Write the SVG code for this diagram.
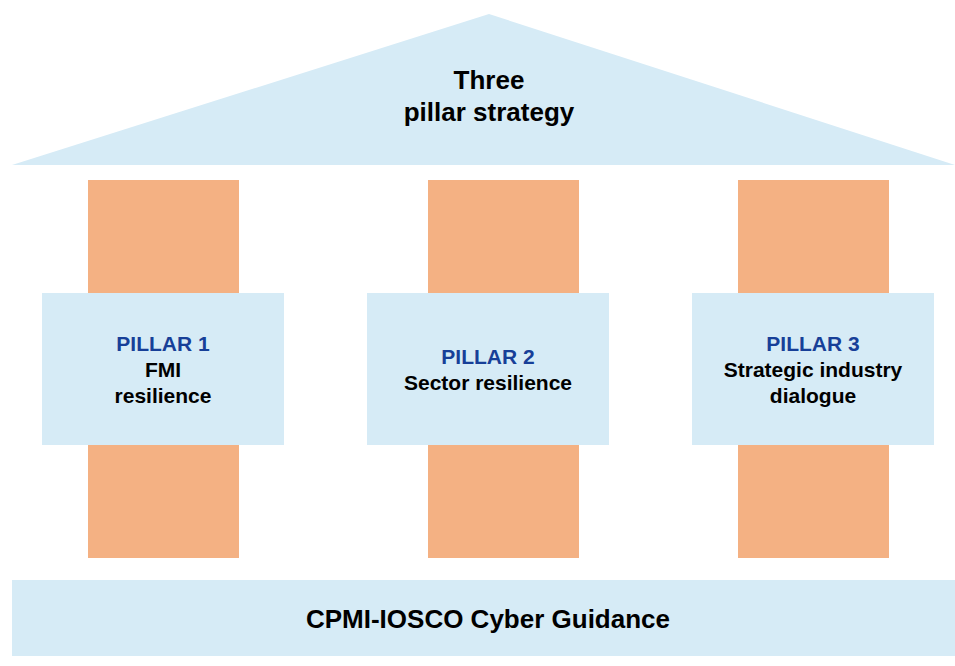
<svg xmlns="http://www.w3.org/2000/svg" width="955" height="666" viewBox="0 0 955 666">
<style>
.roof,.band,.box{fill:#D6EBF6}
.col{fill:#F4B183}
text{font-family:"Liberation Sans",Arial,sans-serif;font-weight:bold;text-anchor:middle;fill:#000}
.t{font-size:26px}
.p{font-size:21px}
.h{fill:#173F98}
</style>
<rect width="955" height="666" fill="#fff"/>
<g id="roof">
<polygon class="roof" points="489,14 955,165 12,165"/>
<text class="t" x="489" y="89">Three</text>
<text class="t" x="489" y="121">pillar strategy</text>
</g>
<g id="pillar1">
<rect class="col" x="88" y="180" width="151" height="378"/>
<rect class="box" x="42" y="293" width="242" height="152"/>
<text class="p h" x="163" y="351">PILLAR 1</text>
<text class="p" x="163" y="377">FMI</text>
<text class="p" x="163" y="403">resilience</text>
</g>
<g id="pillar2">
<rect class="col" x="428" y="180" width="151" height="378"/>
<rect class="box" x="367" y="293" width="242" height="152"/>
<text class="p h" x="488" y="364">PILLAR 2</text>
<text class="p" x="488" y="390">Sector resilience</text>
</g>
<g id="pillar3">
<rect class="col" x="738" y="180" width="151" height="378"/>
<rect class="box" x="692" y="293" width="242" height="152"/>
<text class="p h" x="813" y="351">PILLAR 3</text>
<text class="p" x="813" y="377">Strategic industry</text>
<text class="p" x="813" y="403">dialogue</text>
</g>
<g id="base">
<rect class="band" x="12" y="580" width="943" height="76"/>
<text class="t" x="488" y="628">CPMI-IOSCO Cyber Guidance</text>
</g>
<g id="connectors"/>
</svg>
